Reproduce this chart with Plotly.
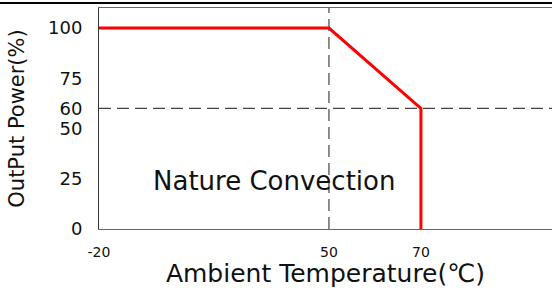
import numpy as np
import plotly.graph_objects as go

# ---- data ----
temps = [-20, 50, 70, 70]          # ambient temperature (°C)
power = [100, 100, 60, 0]          # output power (%)
x_tick_vals = [-20, 50, 70]
x_tick_text = ["-20", "50", "70"]
y_tick_vals = [0, 25, 50, 60, 75, 100]
y_tick_text = ["0", "25", "50", "60", "75", "100"]
ref_temp = 50
ref_power = 60
label_text = "Nature Convection"
label_temp = 38
label_power = 24

# schematic axis: the span -20..0 is collapsed (axis break at the origin)
def xpos(t):
    return np.interp(np.asarray(t, dtype=float), [-20, 0, 200], [0, 0, 200])

FONT = "DejaVu Sans"
INK = "#111111"

fig = go.Figure()
fig.add_trace(go.Scatter(
    x=xpos(temps), y=power, mode="lines",
    line=dict(color="#ff0000", width=3), hoverinfo="skip", showlegend=False))

fig.add_shape(type="line", xref="x", yref="paper",
              x0=float(xpos(ref_temp)), x1=float(xpos(ref_temp)), y0=0, y1=1,
              line=dict(color="#444444", width=1.2, dash="12px,6px"), layer="below")
fig.add_shape(type="line", xref="paper", yref="y",
              x0=0, x1=1, y0=ref_power, y1=ref_power,
              line=dict(color="#444444", width=1.2, dash="12px,6px"), layer="below")
# black rule at the very top of the image
fig.add_shape(type="line", xref="paper", yref="paper",
              x0=-99/453, x1=1, y0=1 + 5.0/221, y1=1 + 5.0/221,
              line=dict(color="black", width=2), layer="above")

fig.add_annotation(x=float(xpos(label_temp)), y=label_power, text=label_text,
                   showarrow=False, font=dict(family=FONT, size=26, color=INK))

fig.update_layout(
    width=552, height=288,
    margin=dict(l=99, r=0, t=8, b=59, autoexpand=False),
    paper_bgcolor="white", plot_bgcolor="white",
    font=dict(family=FONT, color=INK),
    xaxis=dict(
        range=[0, 98.5], showgrid=False, zeroline=False, automargin=False,
        showline=True, mirror=True, linecolor="#666666", linewidth=1,
        tickmode="array", tickvals=list(xpos(x_tick_vals)), ticktext=x_tick_text,
        ticks="", tickfont=dict(family=FONT, size=14, color=INK),
        ticklabelstandoff=10,
        title=dict(text="Ambient Temperature(℃)", standoff=4,
                   font=dict(family=FONT, size=25, color=INK)),
    ),
    yaxis=dict(
        range=[0, 110], showgrid=False, zeroline=False, automargin=False,
        showline=True, linecolor="#333333", linewidth=1,
        tickmode="array", tickvals=y_tick_vals, ticktext=y_tick_text,
        ticks="", tickfont=dict(family=FONT, size=18, color=INK),
        ticklabelstandoff=12,
        title=dict(text="OutPut Power(%)", standoff=17,
                   font=dict(family=FONT, size=21, color=INK)),
    ),
)

fig.write_html("out.html", config={"displayModeBar": False},
               post_script="document.body.style.margin='0';document.body.style.overflow='hidden';")
